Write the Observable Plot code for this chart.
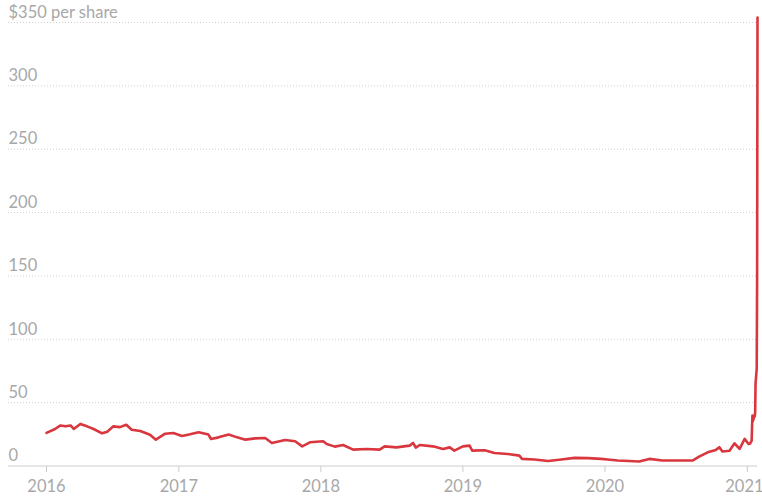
<!DOCTYPE html>
<html>
<head>
<meta charset="utf-8">
<script src="https://cdn.jsdelivr.net/npm/d3@7"></script>
<script src="https://cdn.jsdelivr.net/npm/@observablehq/plot@0.6"></script>
<style>
  html, body { margin: 0; padding: 0; background: #fff; }
  #chart { width: 762px; height: 498px; }
  #chart svg { overflow: visible; }
</style>
</head>
<body>
<div id="chart"></div>
<script>
// Share price (USD)
const dates = [
  "2016-01-27","2016-02-18","2016-03-03","2016-03-16","2016-03-29","2016-04-06","2016-04-23",
  "2016-05-10","2016-05-27","2016-06-18","2016-07-01","2016-07-17","2016-08-03","2016-08-19",
  "2016-09-02","2016-09-24","2016-10-19","2016-11-03","2016-11-27","2016-12-18","2017-01-09",
  "2017-01-30","2017-02-21","2017-03-18","2017-03-25","2017-04-13","2017-05-09","2017-05-31",
  "2017-06-21","2017-07-16","2017-08-11","2017-08-28","2017-10-01","2017-10-27","2017-11-14",
  "2017-12-04","2018-01-07","2018-01-16","2018-02-06","2018-02-27","2018-03-25","2018-04-28",
  "2018-06-01","2018-06-14","2018-07-14","2018-08-17","2018-08-26","2018-09-02","2018-09-12",
  "2018-10-16","2018-11-11","2018-11-28","2018-12-10","2019-01-01","2019-01-18","2019-01-25",
  "2019-02-26","2019-03-23","2019-04-26","2019-05-26","2019-06-02","2019-07-04","2019-08-08",
  "2019-09-11","2019-10-15","2019-11-18","2019-12-22","2020-01-08","2020-02-03","2020-03-29",
  "2020-04-24","2020-05-28","2020-07-10","2020-08-13","2020-08-30","2020-09-21","2020-10-12",
  "2020-10-21","2020-10-29","2020-11-16","2020-11-29","2020-12-12","2020-12-25","2021-01-04",
  "2021-01-08","2021-01-12","2021-01-13","2021-01-14","2021-01-15","2021-01-19","2021-01-20",
  "2021-01-21","2021-01-22","2021-01-25","2021-01-26","2021-01-27"
];
const prices = [
  26.1, 29.2, 32.0, 31.3, 32.0, 29.2, 33.2,
  31.3, 29.2, 25.8, 27.1, 31.3, 30.7, 32.6,
  28.6, 27.6, 24.7, 20.8, 25.5, 26.0, 23.7,
  25.0, 26.6, 24.8, 21.3, 22.6, 24.8, 22.6,
  20.8, 21.8, 22.1, 18.2, 20.5, 19.5, 15.5,
  18.7, 19.5, 17.4, 15.3, 16.6, 12.9, 13.4,
  12.9, 15.5, 14.7, 16.1, 18.2, 14.5, 16.6,
  15.5, 13.4, 14.7, 12.1, 15.5, 16.1, 12.1,
  12.4, 10.3, 9.5, 8.2, 5.6, 5.1, 4.0,
  5.1, 6.4, 6.2, 5.6, 5.1, 4.3, 3.5,
  5.6, 4.3, 4.3, 4.3, 7.4, 10.8, 12.7,
  14.8, 11.4, 12.1, 17.9, 13.5, 21.4, 17.4,
  17.7, 20.0, 31.4, 39.9, 35.5, 39.4, 39.1,
  43.0, 65.0, 76.8, 148.0, 354.0
];
const yTicks = [0, 50, 100, 150, 200, 250, 300, 350];
const yLabels = ["0", "50", "100", "150", "200", "250", "300", "$350 per share"];
const xTickDates = ["2016-01-27", "2017-01-01", "2018-01-01", "2019-01-01", "2020-01-01", "2021-01-01"];
const xTickLabels = ["2016", "2017", "2018", "2019", "2020", "2021"];

const data = dates.map((d, i) => ({date: new Date(d), price: prices[i]}));
const xTicks = xTickDates.map(d => new Date(d));
const last = xTicks.length - 1;

const chart = Plot.plot({
  width: 762,
  height: 498,
  marginLeft: 8,
  marginRight: 5,
  marginTop: 22,
  marginBottom: 32,
  style: {fontFamily: "Lato, sans-serif", fontSize: "16px", background: "#fff", overflow: "visible"},
  x: {type: "utc", domain: [new Date(dates[0]), new Date(dates[dates.length - 1])], range: [46, 757], axis: null},
  y: {domain: [0, 350], range: [465.5, 22], axis: null},
  marks: [
    Plot.ruleY(yTicks.filter(d => d > 0), {stroke: "#cfcfcf", strokeDasharray: "1,2"}),
    Plot.ruleY([0], {stroke: "#cccccc"}),
    Plot.axisX({ticks: xTicks, tickFormat: (d, i) => (i === last ? "" : xTickLabels[i]), tickSize: 6, tickPadding: 8,
                stroke: "#cccccc", fill: "#a8a8a8", fontSize: 16.5, label: null}),
    Plot.text([xTicks[last]], {x: d => d, text: [xTickLabels[last]], frameAnchor: "bottom", lineAnchor: "top",
                               dy: 14, dx: -3, fill: "#a8a8a8", fontSize: 16.5}),
    Plot.text(yTicks, {y: d => d, text: (d, i) => yLabels[i], frameAnchor: "left", textAnchor: "start",
                       dy: -10, fill: "#a8a8a8", fontSize: 16.5}),
    Plot.line(data, {x: "date", y: "price", stroke: "#d9363e", strokeWidth: 2.6, strokeLinejoin: "round"})
  ]
});
document.getElementById("chart").append(chart);
</script>
</body>
</html>
